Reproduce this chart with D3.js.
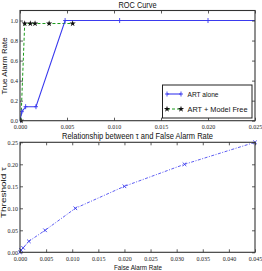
<!DOCTYPE html>
<html>
<head>
<meta charset="utf-8">
<script src="https://cdn.jsdelivr.net/npm/d3@7"></script>
<style>
  body { margin: 0; background: #fff; }
  svg { display: block; }
  .tick text { font-family: "Liberation Serif", "DejaVu Serif", serif; font-size: 6px; fill: #222; }
  .lbl { font-family: "Liberation Sans", Arial, sans-serif; fill: #111; }
</style>
</head>
<body>
<div id="chart"></div>
<script>
// ROC data
const artFar = [0, 0.0002, 0.0006, 0.0017, 0.0048, 0.0106, 0.0200, 0.0315, 0.0450];
const artTar = [0, 0.09, 0.14, 0.14, 1.0, 1.0, 1.0, 1.0, 1.0];
const mfFar = [0.0001, 0.0005, 0.0011, 0.0016, 0.0031, 0.0056];
const mfTar = [0.0, 0.97, 0.97, 0.97, 0.97, 0.97];
// threshold vs false alarm rate
const thresholds = [0, 0.005, 0.01, 0.025, 0.05, 0.10, 0.15, 0.20, 0.25];
const thrFar = artFar;

const rocXTicks = [0, 0.005, 0.01, 0.015, 0.02, 0.025];
const rocYTicks = [0, 0.2, 0.4, 0.6, 0.8, 1.0];
const thrXTicks = [0, 0.005, 0.01, 0.015, 0.02, 0.025, 0.03, 0.035, 0.04, 0.045];
const thrYTicks = [0, 0.05, 0.10, 0.15, 0.20, 0.25];

const w = 262, h = 271;
const left = 20, right = 255;

const svg = d3.select("#chart").append("svg").attr("width", w).attr("height", h);

function frame(g, x, y, xTicks, yTicks, xFmt, yFmt, top, bottom) {
  const xAxis = d3.axisBottom(x).tickValues(xTicks).tickFormat(d3.format(xFmt)).tickSizeInner(-3).tickSizeOuter(0).tickPadding(4);
  const xTop = d3.axisTop(x).tickValues(xTicks).tickFormat("").tickSizeInner(-3).tickSizeOuter(0);
  const yAxis = d3.axisLeft(y).tickValues(yTicks).tickFormat(d3.format(yFmt)).tickSizeInner(-3).tickSizeOuter(0).tickPadding(2);
  const yRight = d3.axisRight(y).tickValues(yTicks).tickFormat("").tickSizeInner(-3).tickSizeOuter(0);
  g.append("g").attr("transform", `translate(0,${bottom})`).call(xAxis);
  g.append("g").attr("transform", `translate(0,${top})`).call(xTop);
  g.append("g").attr("transform", `translate(${left},0)`).call(yAxis);
  g.append("g").attr("transform", `translate(${right},0)`).call(yRight);
  g.selectAll(".domain").remove();
  g.selectAll(".tick line").attr("stroke", "#333").attr("stroke-width", 0.8);
  g.append("rect").attr("x", left).attr("y", top).attr("width", right - left).attr("height", bottom - top)
    .attr("fill", "none").attr("stroke", "#333").attr("stroke-width", 1.1);
}

// ---------- top: ROC curve ----------
const t1 = 10.5, b1 = 120.7;
const x1 = d3.scaleLinear().domain([0, 0.025]).range([left, right]);
const y1 = d3.scaleLinear().domain([0, 1.1]).range([b1, t1]);

const g1 = svg.append("g");
svg.append("clipPath").attr("id", "clip1").append("rect")
  .attr("x", left).attr("y", t1 - 3).attr("width", right - left).attr("height", b1 - t1 + 6);
const p1 = g1.append("g").attr("clip-path", "url(#clip1)");

const artPts = artFar.map((d, i) => [d, artTar[i]]);
const mfPts = mfFar.map((d, i) => [d, mfTar[i]]);
const line1 = d3.line().x(d => x1(d[0])).y(d => y1(d[1]));

p1.append("path").datum(mfPts).attr("d", line1).attr("fill", "none")
  .attr("stroke", "#1a9a1a").attr("stroke-width", 1).attr("stroke-dasharray", "3,2");
p1.append("path").datum(artPts).attr("d", line1).attr("fill", "none")
  .attr("stroke", "#3a3aee").attr("stroke-width", 1.1);

const star = d3.symbol().type(d3.symbolStar).size(12);
const plusPath = "M0,-2.5V2.5M-2,0H2";

p1.selectAll(".art").data(artPts).enter().append("path")
  .attr("transform", d => `translate(${x1(d[0])},${y1(d[1])})`)
  .attr("d", plusPath).attr("stroke", "#3a3aee").attr("stroke-width", 0.9);
p1.selectAll(".mf").data(mfPts).enter().append("path")
  .attr("transform", d => `translate(${x1(d[0])},${y1(d[1])})`)
  .attr("d", star()).attr("fill", "#111");

frame(g1, x1, y1, rocXTicks, rocYTicks, ".3f", ".1f", t1, b1);

svg.append("text").attr("class", "lbl").attr("x", 137.5).attr("y", 7.5).attr("text-anchor", "middle")
  .attr("font-size", 9).attr("textLength", 38).attr("lengthAdjust", "spacingAndGlyphs").text("ROC Curve");
svg.append("text").attr("class", "lbl").attr("transform", "translate(7,66) rotate(-90)")
  .attr("text-anchor", "middle").attr("font-size", 7.5).attr("textLength", 57).attr("lengthAdjust", "spacingAndGlyphs")
  .text("True Alarm Rate");

// legend
const lg = svg.append("g");
lg.append("rect").attr("x", 162.5).attr("y", 85).attr("width", 89.5).attr("height", 33)
  .attr("fill", "#fff").attr("stroke", "#222").attr("stroke-width", 1);
lg.append("line").attr("x1", 167).attr("x2", 181).attr("y1", 94).attr("y2", 94).attr("stroke", "#3a3aee").attr("stroke-width", 1.1);
[167, 181].forEach(px => {
  lg.append("path").attr("transform", `translate(${px},94)`).attr("d", plusPath).attr("stroke", "#3a3aee").attr("stroke-width", 0.9);
});
lg.append("line").attr("x1", 167).attr("x2", 181).attr("y1", 109).attr("y2", 109).attr("stroke", "#1a9a1a").attr("stroke-width", 1).attr("stroke-dasharray", "3,2");
[167, 181].forEach(px => {
  lg.append("path").attr("transform", `translate(${px},109)`).attr("d", star()).attr("fill", "#111");
});
lg.append("text").attr("class", "lbl").attr("x", 187.5).attr("y", 96.5).attr("font-size", 8)
  .attr("textLength", 31).attr("lengthAdjust", "spacingAndGlyphs").text("ART alone");
lg.append("text").attr("class", "lbl").attr("x", 187.5).attr("y", 112).attr("font-size", 8)
  .attr("textLength", 60).attr("lengthAdjust", "spacingAndGlyphs").text("ART + Model Free");

// ---------- bottom: threshold vs FAR ----------
const t2 = 142.3, b2 = 252.3;
const x2 = d3.scaleLinear().domain([0, 0.045]).range([left, right]);
const y2 = d3.scaleLinear().domain([0, 0.25]).range([b2, t2]);
const g2 = svg.append("g");
const thrPts = thrFar.map((d, i) => [d, thresholds[i]]);
const line2 = d3.line().x(d => x2(d[0])).y(d => y2(d[1]));

g2.append("path").datum(thrPts).attr("d", line2).attr("fill", "none")
  .attr("stroke", "#4a4af0").attr("stroke-width", 0.9).attr("stroke-dasharray", "3,1.5,1,1.5");
g2.selectAll(".thr").data(thrPts).enter().append("path")
  .attr("transform", d => `translate(${x2(d[0])},${y2(d[1])})`)
  .attr("d", "M-1.8,-1.8L1.8,1.8M-1.8,1.8L1.8,-1.8").attr("stroke", "#3a3aee").attr("stroke-width", 0.9);

frame(g2, x2, y2, thrXTicks, thrYTicks, ".3f", ".2f", t2, b2);

svg.append("text").attr("class", "lbl").attr("x", 137.5).attr("y", 138.5).attr("text-anchor", "middle")
  .attr("font-size", 9).attr("textLength", 151).attr("lengthAdjust", "spacingAndGlyphs")
  .text("Relationship between τ and False Alarm Rate");
svg.append("text").attr("class", "lbl").attr("x", 138).attr("y", 270).attr("text-anchor", "middle")
  .attr("font-size", 8).attr("textLength", 48).attr("lengthAdjust", "spacingAndGlyphs").text("False Alarm Rate");
svg.append("text").attr("class", "lbl").attr("transform", "translate(6,192.5) rotate(-90)")
  .attr("text-anchor", "middle").attr("font-size", 7.5).attr("textLength", 51).attr("lengthAdjust", "spacingAndGlyphs")
  .text("Threshold τ");
</script>
</body>
</html>
